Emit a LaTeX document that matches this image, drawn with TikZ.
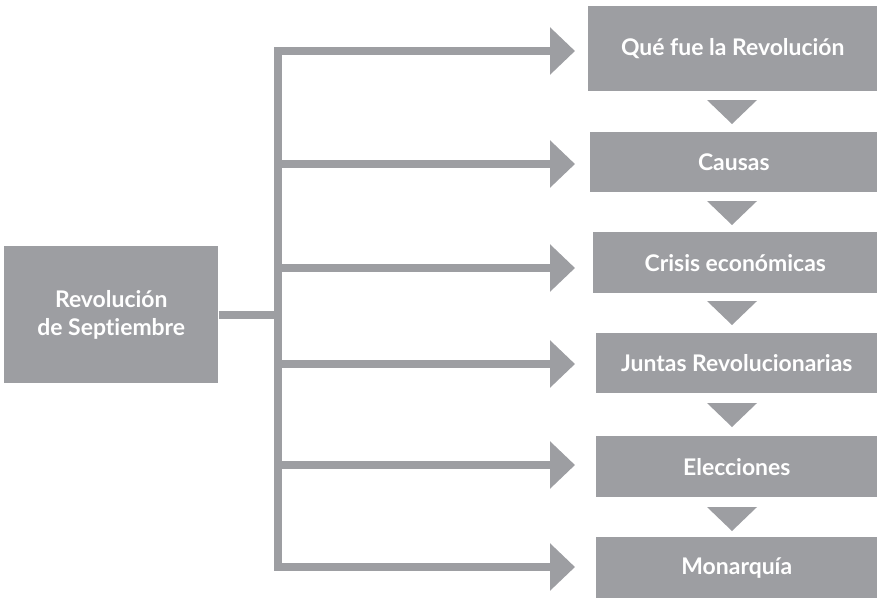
\documentclass[tikz,border=0pt]{standalone}
\usepackage{fontspec}
\setmainfont{Lato}[Ligatures=NoCommon]
\usetikzlibrary{arrows.meta,calc,positioning}
\definecolor{revgray}{RGB}{157,158,162}
\tikzset{
  stagebox/.style={fill=revgray, text=white, anchor=north west, inner sep=0pt,
    font=\bfseries\fontsize{17.2}{21}\selectfont, align=center},
  busline/.style={draw=revgray, line width=6pt},
  feed/.style={draw=revgray, line width=6pt, -{Triangle[length=18.75pt,width=34.5pt]}},
}
\begin{document}
\begin{tikzpicture}[x=0.75pt,y=0.75pt,yscale=-1,xscale=1]
        \useasboundingbox (0,0) rectangle (877,601);

        %Shape: Rectangle [id:sept]
        \node [stagebox, minimum width=160.5pt, minimum height=102.75pt] (sept) at (4,246) {Revolución\\de Septiembre};

        %Shape: Rectangle [id:q1..q6]
        \node [stagebox, minimum width=216.75pt, minimum height=63.75pt] (q1) at (588,6) {Qué fue la Revolución};
        \node [stagebox, minimum width=215.25pt, minimum height=45pt] (q2) at (590,132) {Causas};
        \node [stagebox, minimum width=213pt, minimum height=45.75pt] (q3) at (593,232) {Crisis económicas};
        \node [stagebox, minimum width=210.75pt, minimum height=45pt] (q4) at (596,333) {Juntas Revolucionarias};
        \node [stagebox, minimum width=210.75pt, minimum height=45.75pt] (q5) at (596,436) {Elecciones};
        \node [stagebox, minimum width=210.75pt, minimum height=45.75pt] (q6) at (596,537) {Monarquía};

        %Straight Lines [id:bus]
        \coordinate (bustop) at (278,47);
        \coordinate (busbot) at (278,571);
        \draw [busline] (bustop) -- (busbot) ;
        \draw [busline] (sept.east) -- (sept.east -| bustop) ;

        %Straight Lines [id:feeds]
        \foreach \y/\n in {51/1,164/2,268/3,364/4,465/5,567/6} {
          \coordinate (b\n) at (278,\y);
          \coordinate (t\n) at (575,\y);
          \draw [feed] (b\n) -- (t\n) ;
        }

        %Shape: Triangle [id:steps]
        \foreach \y in {100,201,301,403,507} {
          \fill [revgray] (707,\y) -- (757,\y) -- (732,\y+24) -- cycle ;
        }

\end{tikzpicture}
\end{document}
